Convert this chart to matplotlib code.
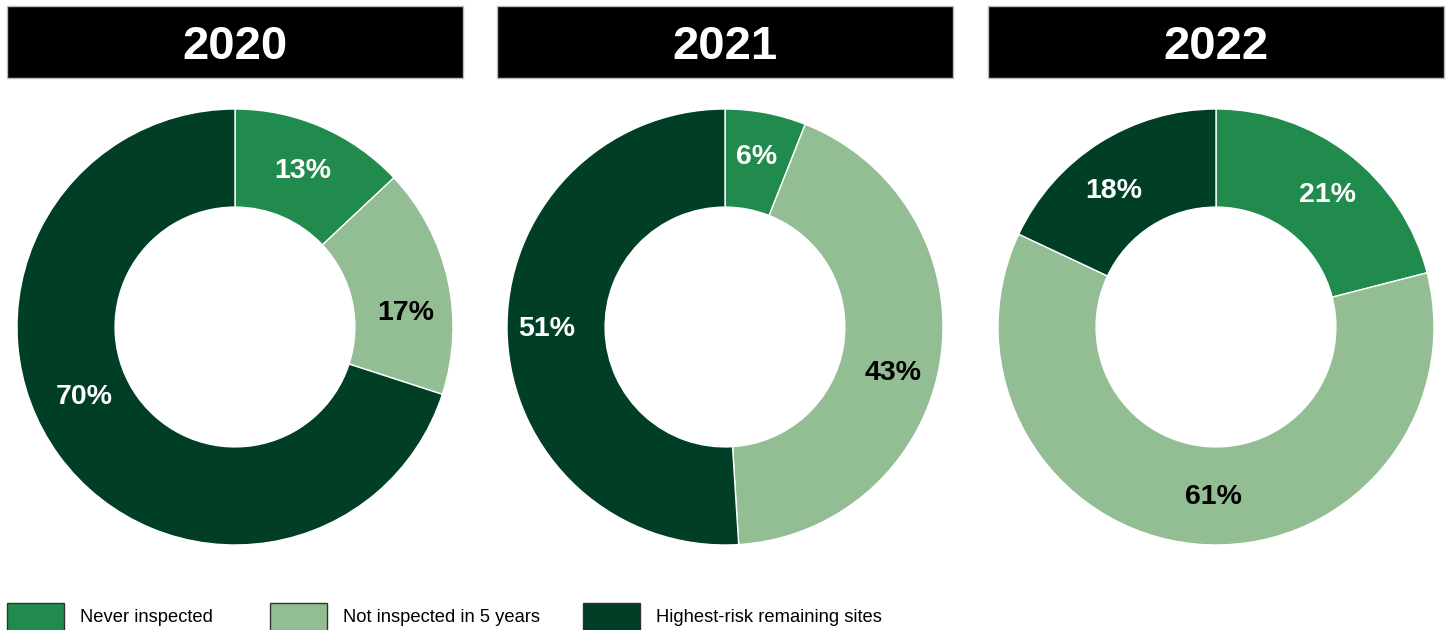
import matplotlib.pyplot as plt
from matplotlib.patches import Rectangle

plt.rcParams['font.family'] = ['Liberation Sans', 'DejaVu Sans']

# data
years = ['2020', '2021', '2022']
categories = ['Never inspected', 'Not inspected in 5 years', 'Highest-risk remaining sites']
shares = {
    '2020': [13, 17, 70],
    '2021': [6, 43, 51],
    '2022': [21, 61, 18],
}
colors = ['#218B4E', '#93BD93', '#003F26']
label_colors = ['white', 'black', 'white']

# hand nudges of the percent labels (pixels, right / down), as in the original
label_nudge = {
    '2020': [(0, 0), (5, 23), (-13, -30)],
    '2021': [(0, -3), (0, 19), (-8, -3)],
    '2022': [(7, 2), (13, 1), (-11, 8)],
}

W, H = 1449, 630
fig = plt.figure(figsize=(W / 100, H / 100), dpi=100)

centers_x = [235, 725, 1216]
cy = 327
R = 218

for year, cx in zip(years, centers_x):
    ax = fig.add_axes([(cx - R) / W, (H - cy - R) / H, 2 * R / W, 2 * R / H])
    wedges, texts, autotexts = ax.pie(
        shares[year], colors=colors, startangle=90, counterclock=False,
        autopct='%d%%', pctdistance=0.78,
        wedgeprops=dict(width=0.45, edgecolor='white', linewidth=1),
    )
    for t, c, (dx, dy) in zip(autotexts, label_colors, label_nudge[year]):
        t.set_color(c)
        t.set_fontsize(20.5)
        t.set_fontweight('bold')
        x, y = t.get_position()
        t.set_position((x + dx / R, y - dy / R))
    ax.set_xlim(-1.0, 1.0)
    ax.set_ylim(-1.0, 1.0)
    ax.set_aspect('equal')

    # black title box above each donut
    bw, bh = 456, 72
    fig.add_artist(Rectangle(((cx - bw / 2) / W, (H - 78) / H), bw / W, bh / H,
                             transform=fig.transFigure, facecolor='black',
                             edgecolor='#BBBBBB', linewidth=1))
    fig.text(cx / W, (H - 42) / H, year, color='white', fontsize=34,
             fontweight='bold', ha='center', va='center_baseline')

# legend along the bottom edge
legend_x = [7, 270, 583]
for name, col, lx in zip(categories, colors, legend_x):
    fig.add_artist(Rectangle((lx / W, (H - 633) / H), 57 / W, 30 / H,
                             transform=fig.transFigure, facecolor=col,
                             edgecolor='#333333', linewidth=1))
    fig.text((lx + 73) / W, (H - 617) / H, name, fontsize=13.2,
             ha='left', va='center')

plt.savefig('out.png', dpi=100)
